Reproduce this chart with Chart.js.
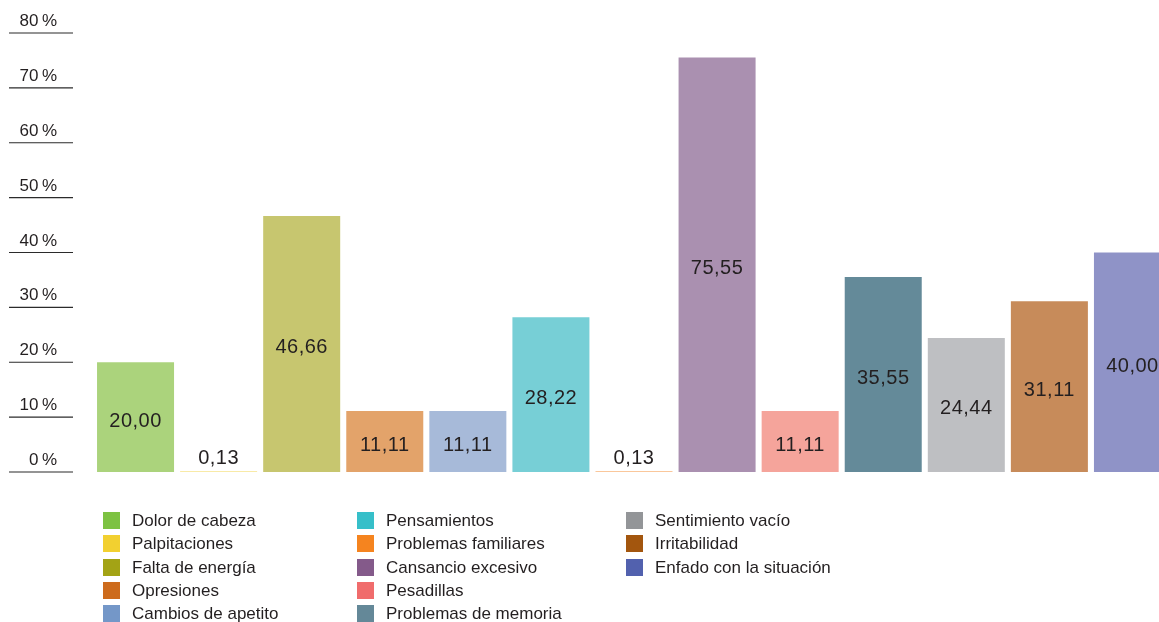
<!DOCTYPE html>
<html>
<head>
<meta charset="utf-8">
<script src="https://cdn.jsdelivr.net/npm/chart.js@4"></script>
<style>
  html, body { margin: 0; padding: 0; background: #fff; overflow: hidden; }
  #wrap { position: relative; width: 1175px; height: 622px; }
  #legend {
    position: absolute; left: 103px; top: 509px;
    display: grid; grid-auto-flow: column;
    grid-template-rows: repeat(5, 23.3px);
    grid-template-columns: 254px 269px 260px;
    font: 17px "Liberation Sans", Arial, sans-serif; color: #231f20;
  }
  #legend div { display: flex; align-items: center; white-space: nowrap; line-height: 17px; }
  #legend span { display: inline-block; width: 17px; height: 17px; margin-right: 12px; flex: none; }
</style>
</head>
<body>
<div id="wrap">
  <canvas id="grafico" width="1175" height="622"></canvas>
  <div id="legend"></div>
</div>
<script>
const sintomas = [
  "Dolor de cabeza", "Palpitaciones", "Falta de energía", "Opresiones",
  "Cambios de apetito", "Pensamientos", "Problemas familiares", "Cansancio excesivo",
  "Pesadillas", "Problemas de memoria", "Sentimiento vacío", "Irritabilidad",
  "Enfado con la situación"
];

const porcentajes = [20.00, 0.13, 46.66, 11.11, 11.11, 28.22, 0.13, 75.55, 11.11, 35.55, 24.44, 31.11, 40.00];

const ticksY = [0, 10, 20, 30, 40, 50, 60, 70, 80];

// colores de la leyenda y versiones suaves para las barras
const coresLeyenda = [
  '#7dc242', '#f2d030', '#a3a315', '#cd6b1c', '#7497c8', '#36bfc9', '#f5841f',
  '#845a8a', '#f06c6c', '#648898', '#939598', '#a3560e', '#5261ae'
];
const coresBarras = [
  '#abd37c', '#f6e38a', '#c7c66f', '#e3a36a', '#a7bad9', '#77cfd6', '#f8b47a',
  '#aa90b0', '#f5a49b', '#648a99', '#bebfc2', '#c78b5a', '#8f93c7'
];

const fuente = '"Liberation Sans", Arial, sans-serif';
const tinta = '#231f20';
const fmt = v => v.toFixed(2).replace('.', ',');

const etiquetas = {
  id: 'etiquetas',
  afterDraw(chart) {
    const ctx = chart.ctx;
    const y = chart.scales.y;
    ctx.save();
    // eje Y: texto y raya corta bajo cada valor
    ctx.fillStyle = tinta;
    ctx.strokeStyle = '#2b2b2b';
    ctx.lineWidth = 1.2;
    ctx.font = '17px ' + fuente;
    ctx.textAlign = 'right';
    ctx.textBaseline = 'alphabetic';
    ticksY.forEach(t => {
      const py = y.getPixelForValue(t);
      ctx.beginPath();
      ctx.moveTo(9, py);
      ctx.lineTo(73, py);
      ctx.stroke();
      ctx.fillText(t + '\u2009%', 57, py - 7);
    });
    // valores dentro de las barras
    ctx.font = '20px ' + fuente;
    ctx.textAlign = 'center';
    ctx.textBaseline = 'middle';
    ctx.letterSpacing = '0.5px';
    const base = y.getPixelForValue(0);
    chart.getDatasetMeta(0).data.forEach((bar, i) => {
      const mid = Math.min((bar.y + base) / 2 + 4, base - 14);
      ctx.fillText(fmt(porcentajes[i]), bar.x, mid);
    });
    ctx.restore();
  }
};

new Chart(document.getElementById('grafico'), {
  type: 'bar',
  data: {
    labels: sintomas,
    datasets: [{
      data: porcentajes,
      backgroundColor: coresBarras,
      borderWidth: 0,
      barPercentage: 0.927,
      categoryPercentage: 1
    }]
  },
  options: {
    responsive: false,
    animation: false,
    layout: { padding: { left: 94, right: 1, top: 33, bottom: 150 } },
    plugins: { legend: { display: false }, tooltip: { enabled: false } },
    scales: {
      x: { display: false },
      y: { display: false, min: 0, max: 80 }
    }
  },
  plugins: [etiquetas]
});

const legend = document.getElementById('legend');
sintomas.forEach((s, i) => {
  const item = document.createElement('div');
  const sw = document.createElement('span');
  sw.style.background = coresLeyenda[i];
  item.appendChild(sw);
  item.appendChild(document.createTextNode(s));
  legend.appendChild(item);
});
</script>
</body>
</html>
